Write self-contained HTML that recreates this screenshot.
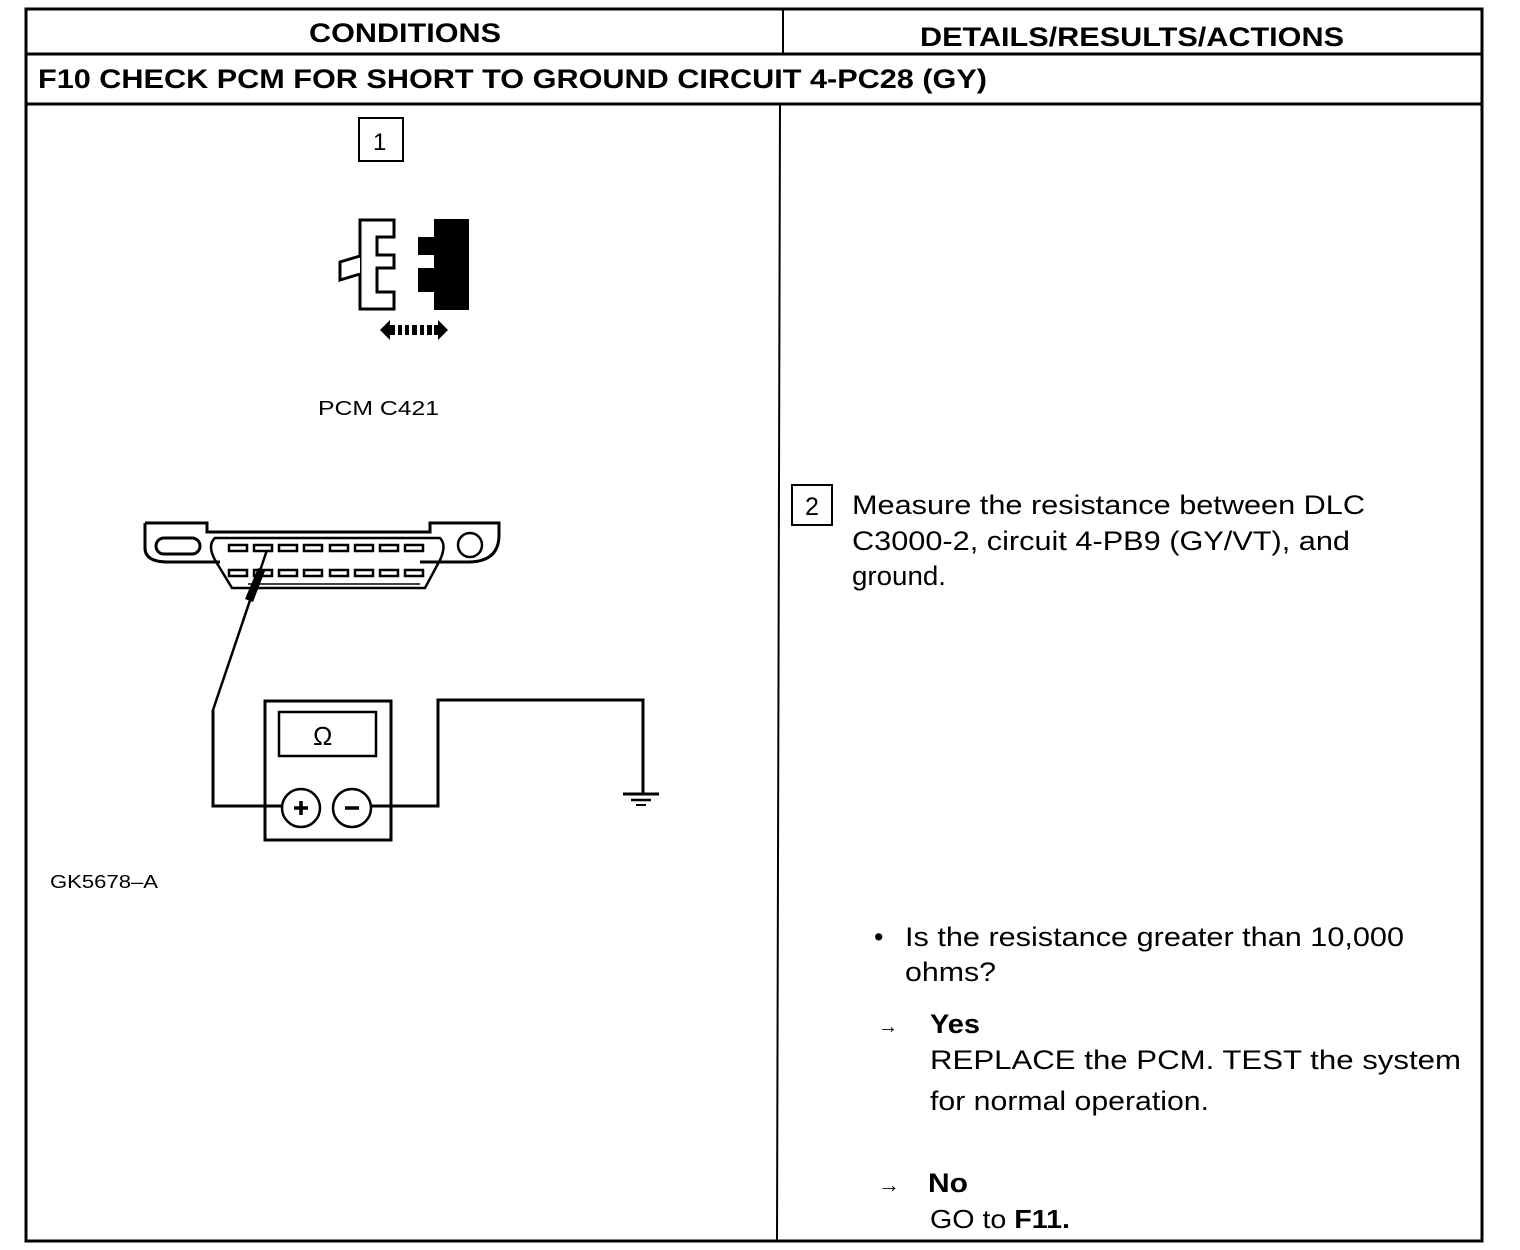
<!DOCTYPE html>
<html><head><meta charset="utf-8"><style>
html,body{margin:0;padding:0;background:#fff;}
svg{display:block;}
text{font-family:"Liberation Sans",Arial,sans-serif;fill:#000;}
</style></head><body>
<svg width="1520" height="1250" viewBox="0 0 1520 1250" xmlns="http://www.w3.org/2000/svg">
<g stroke="#000" fill="none">
<rect x="26" y="9" width="1456" height="1232" stroke-width="3"/>
<line x1="26" y1="54" x2="1482" y2="54" stroke-width="3"/>
<line x1="26" y1="104" x2="1482" y2="104" stroke-width="3"/>
<line x1="783" y1="9" x2="783" y2="54" stroke-width="2"/>
<line x1="780" y1="104" x2="777" y2="1241" stroke-width="2"/>
</g>
<text x="309" y="42" font-size="27" font-weight="bold" textLength="192" lengthAdjust="spacingAndGlyphs">CONDITIONS</text>
<text x="920" y="46" font-size="27" font-weight="bold" textLength="424" lengthAdjust="spacingAndGlyphs">DETAILS/RESULTS/ACTIONS</text>
<text x="38" y="88" font-size="27" font-weight="bold" textLength="949" lengthAdjust="spacingAndGlyphs">F10 CHECK PCM FOR SHORT TO GROUND CIRCUIT 4-PC28 (GY)</text>

<!-- box 1 -->
<rect x="359" y="118" width="44" height="43" fill="none" stroke="#000" stroke-width="2"/>
<text x="373" y="150" font-size="24">1</text>

<!-- connector -->
<path d="M360 220 H394 V237 H377 V255 H394 V268 H377 V292 H394 V309 H360 Z" fill="#fff" stroke="#000" stroke-width="3"/>
<path d="M360 256 L340 262 L340 280 L360 274" fill="#fff" stroke="#000" stroke-width="3"/>
<path d="M434 219 H469 V310 H434 V292 H418 V268 H434 V255 H418 V237 H434 Z" fill="#000"/>
<path d="M380 330 L390 320 V340 Z M448 330 L438 320 V340 Z" fill="#000"/>
<g fill="#000"><rect x="390" y="325" width="5" height="10"/><rect x="398" y="325" width="4" height="10"/><rect x="405" y="325" width="4" height="10"/><rect x="412" y="325" width="5" height="10"/><rect x="420" y="325" width="4" height="10"/><rect x="427" y="325" width="5" height="10"/><rect x="434" y="325" width="4" height="10"/></g>
<text x="318" y="415" font-size="20" textLength="121" lengthAdjust="spacingAndGlyphs">PCM C421</text>

<!-- DLC -->
<g stroke="#000" fill="none" stroke-width="3">
<path d="M145 523 H207 V532 H430 V523 H499 V535 Q499 561 470 562 H420"/>
<path d="M145 523 V548 Q145 562 168 562 H220"/>
<path d="M215 538 Q207 545 215 560 L232 588 H425 L440 560 Q447 545 440 538 Z" stroke-width="2.5"/>
<rect x="156" y="538" width="44" height="16" rx="8"/>
<circle cx="470" cy="545" r="12" stroke-width="2.5"/>
<line x1="248" y1="584" x2="420" y2="584" stroke-width="1.5"/>
</g>
<g fill="none" stroke="#000" stroke-width="2.5">
<rect x="229" y="545" width="18" height="6"/><rect x="254" y="545" width="18" height="6"/><rect x="279" y="545" width="18" height="6"/><rect x="304" y="545" width="18" height="6"/><rect x="330" y="545" width="18" height="6"/><rect x="355" y="545" width="18" height="6"/><rect x="380" y="545" width="18" height="6"/><rect x="405" y="545" width="18" height="6"/>
<rect x="229" y="570" width="18" height="6"/><rect x="254" y="570" width="18" height="6"/><rect x="279" y="570" width="18" height="6"/><rect x="304" y="570" width="18" height="6"/><rect x="330" y="570" width="18" height="6"/><rect x="355" y="570" width="18" height="6"/><rect x="380" y="570" width="18" height="6"/><rect x="405" y="570" width="18" height="6"/>
</g>
<!-- probe -->
<path d="M267 550 L213 710" stroke="#000" stroke-width="2.5" fill="none"/>
<path d="M258 568 L265 571 L253 602 L245 599 Z" fill="#000"/>

<!-- meter -->
<g stroke="#000" fill="none" stroke-width="3">
<path d="M213 710 V806 H282"/>
<rect x="265" y="701" width="126" height="139"/>
<rect x="279" y="712" width="97" height="44" stroke-width="2.5"/>
<circle cx="301" cy="808" r="19" stroke-width="2.5"/>
<circle cx="352" cy="808" r="19" stroke-width="2.5"/>
<path d="M371 806 H438 V700 H643 V793"/>
<line x1="623" y1="794" x2="659" y2="794"/>
<line x1="631" y1="800" x2="651" y2="800" stroke-width="2.5"/>
<line x1="636" y1="805" x2="646" y2="805" stroke-width="2"/>
</g>
<text x="313" y="745" font-size="26" font-family="Liberation Serif">Ω</text>
<path d="M301 801 V815 M294 808 H308" stroke="#000" stroke-width="3.5"/>
<path d="M345 808 H359" stroke="#000" stroke-width="3.5"/>
<text x="50" y="888" font-size="18" textLength="108" lengthAdjust="spacingAndGlyphs">GK5678–A</text>

<!-- right side -->
<rect x="792" y="485" width="40" height="40" fill="none" stroke="#000" stroke-width="2"/>
<text x="805" y="515" font-size="25">2</text>
<g font-size="27">
<text x="852" y="514" textLength="513" lengthAdjust="spacingAndGlyphs">Measure the resistance between DLC</text>
<text x="852" y="550" textLength="498" lengthAdjust="spacingAndGlyphs">C3000-2, circuit 4-PB9 (GY/VT), and</text>
<text x="852" y="585" textLength="94" lengthAdjust="spacingAndGlyphs">ground.</text>
<text x="874" y="946">•</text>
<text x="905" y="946" textLength="499" lengthAdjust="spacingAndGlyphs">Is the resistance greater than 10,000</text>
<text x="905" y="981" textLength="91" lengthAdjust="spacingAndGlyphs">ohms?</text>
<text x="878" y="1033" font-size="20">→</text>
<text x="930" y="1033" font-weight="bold" textLength="50" lengthAdjust="spacingAndGlyphs">Yes</text>
<text x="930" y="1069" textLength="531" lengthAdjust="spacingAndGlyphs">REPLACE the PCM.  TEST the system</text>
<text x="930" y="1110" textLength="279" lengthAdjust="spacingAndGlyphs">for normal operation.</text>
<text x="878" y="1192" font-size="22">→</text>
<text x="928" y="1192" font-weight="bold" textLength="40" lengthAdjust="spacingAndGlyphs">No</text>
<text x="930" y="1228" font-family="Liberation Serif" font-size="26" textLength="140" lengthAdjust="spacingAndGlyphs">GO to <tspan font-weight="bold">F11.</tspan></text>
</g>
</svg>
</body></html>
